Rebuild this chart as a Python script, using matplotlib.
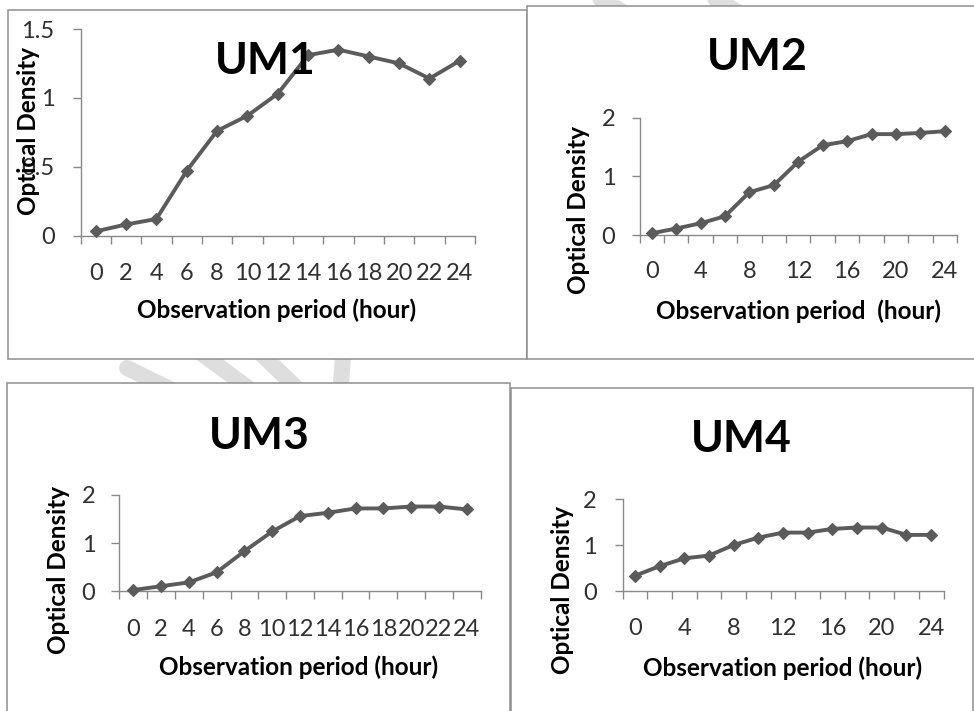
import matplotlib
matplotlib.use("Agg")
import matplotlib.pyplot as plt
import numpy as np
from matplotlib.patches import Rectangle
from matplotlib.lines import Line2D

# ---------------- data ----------------
hours = [0, 2, 4, 6, 8, 10, 12, 14, 16, 18, 20, 22, 24]
um1 = [0.03, 0.08, 0.12, 0.47, 0.76, 0.87, 1.03, 1.31, 1.35, 1.30, 1.25, 1.14, 1.27]
um2 = [0.03, 0.11, 0.20, 0.32, 0.73, 0.85, 1.25, 1.53, 1.60, 1.72, 1.72, 1.74, 1.77]
um3 = [0.02, 0.10, 0.18, 0.39, 0.83, 1.24, 1.56, 1.63, 1.72, 1.72, 1.76, 1.76, 1.70]
um4 = [0.33, 0.54, 0.71, 0.77, 1.00, 1.16, 1.27, 1.27, 1.35, 1.38, 1.38, 1.22, 1.22]
titles = ["UM1", "UM2", "UM3", "UM4"]
xlabels = ["Observation period (hour)", "Observation period  (hour)",
           "Observation period (hour)", "Observation period (hour)"]
ylabel_text = "Optical Density"
yticks_um1 = [0, 0.5, 1, 1.5]
yticklabels_um1 = ["0", "0.5", "1", "1.5"]
yticks_rest = [0, 1, 2]
yticklabels_rest = ["0", "1", "2"]

# ---------------- style / layout ----------------
plt.rcParams['font.family'] = ['Lato', 'DejaVu Sans']
W, H = 974, 711
fig = plt.figure(figsize=(W / 100, H / 100), dpi=100)
fig.patch.set_facecolor('white')

PT = 72 / 100  # points per pixel
LINE_C = '#5b5b5b'
AXIS_C = '#898989'
BORDER_C = '#8e8e8e'
WM_C = '#dedede'
TICK_C = '#303030'


def fx(px):
    return px / W


def fy(py):
    return 1 - py / H


# watermark strokes (visible only in the gaps between panels)
wm = [((127, 368), (205, 406)), ((190, 345), (262, 398)), ((255, 348), (305, 396)),
      ((344, 345), (340, 395)), ((585, -10), (640, 22)), ((700, -10), (755, 22))]
for (x0, y0), (x1, y1) in wm:
    fig.add_artist(Line2D([fx(x0), fx(x1)], [fy(y0), fy(y1)], transform=fig.transFigure,
                          color=WM_C, lw=16 * PT, solid_capstyle='round', zorder=-3))

# panel boxes: x0, y0, x1, y1 (pixels, y down)
boxes = [(8, 10, 527, 359), (527, 6, 980, 359), (7, 383, 510, 720), (511, 388, 973, 720)]
for x0, y0, x1, y1 in boxes:
    fig.add_artist(Rectangle((fx(x0), fy(y1)), (x1 - x0) / W, (y1 - y0) / H,
                             transform=fig.transFigure, facecolor='white',
                             edgecolor=BORDER_C, lw=1.1, zorder=-1))

series = [um1, um2, um3, um4]
panels = [
    dict(plot=(80.5, 29, 475, 235.5), ymax=1.5, yt=yticks_um1, ytl=yticklabels_um1, step=1,
         title=(265, 61), xlab=(277, 310), ylab=(29, 131), xpad=19.5, ypad=18),
    dict(plot=(639.5, 117.7, 957, 235), ymax=2, yt=yticks_rest, ytl=yticklabels_rest, step=2,
         title=(757, 57), xlab=(798, 311), ylab=(578, 210), xpad=18.5, ypad=16),
    dict(plot=(119.4, 495, 480.6, 591), ymax=2, yt=yticks_rest, ytl=yticklabels_rest, step=1,
         title=(259, 436), xlab=(299, 667), ylab=(58, 570), xpad=20.5, ypad=16),
    dict(plot=(622.5, 499, 943.5, 591), ymax=2, yt=yticks_rest, ytl=yticklabels_rest, step=2,
         title=(741, 439), xlab=(783, 668), ylab=(562, 590), xpad=19.5, ypad=18),
]

TICK_LEN = 8 * PT
LABEL_FS = 17.5
for vals, p, ttl, xl in zip(series, panels, titles, xlabels):
    l, t, r, b = p['plot']
    ax = fig.add_axes([fx(l), fy(b), (r - l) / W, (b - t) / H])
    ax.set_facecolor('none')
    cats = np.arange(len(hours))
    ax.plot(cats, vals, color=LINE_C, lw=2.8, marker='D', ms=6.2,
            mfc=LINE_C, mec=LINE_C, mew=0.8, clip_on=False, zorder=3)
    ax.set_xlim(-0.5, len(hours) - 0.5)
    ax.set_ylim(0, p['ymax'])
    for s in ('top', 'right'):
        ax.spines[s].set_visible(False)
    for s in ('left', 'bottom'):
        ax.spines[s].set_color(AXIS_C)
        ax.spines[s].set_linewidth(1.0)
    # category boundaries as major ticks, labels at centers as minor ticks
    ax.set_xticks(np.arange(-0.5, len(hours), 1.0))
    ax.set_xticklabels([])
    ax.set_xticks(cats, minor=True)
    ax.set_xticklabels([str(h) if i % p['step'] == 0 else '' for i, h in enumerate(hours)],
                       minor=True)
    ax.tick_params(axis='x', which='major', direction='out', length=TICK_LEN,
                   width=1.0, color=AXIS_C)
    ax.tick_params(axis='x', which='minor', length=0, pad=p['xpad'],
                   labelsize=17, labelcolor=TICK_C)
    ax.set_yticks(p['yt'])
    ax.set_yticklabels(p['ytl'])
    ax.tick_params(axis='y', direction='out', length=TICK_LEN, width=1.0, color=AXIS_C,
                   pad=p['ypad'] * PT, labelsize=17, labelcolor=TICK_C)
    # title
    tx, ty = p['title']
    tt = ax.set_title(ttl, fontsize=32, fontweight='bold', color='black', pad=0,
                      va='center', y=(b - ty) / (b - t))
    tt.set_x((tx - l) / (r - l))
    # axis labels
    ax.set_xlabel(xl, fontsize=LABEL_FS, fontweight='bold', color='black', va='center')
    xx, xy = p['xlab']
    ax.xaxis.set_label_coords((xx - l) / (r - l), (b - xy) / (b - t))
    ax.set_ylabel(ylabel_text, fontsize=LABEL_FS, fontweight='bold', color='black',
                  va='center', ha='center', rotation_mode='anchor')
    yx, yy = p['ylab']
    ax.yaxis.set_label_coords((yx - l) / (r - l), (b - yy) / (b - t))

fig.savefig('out.png', dpi=100, facecolor='white')
